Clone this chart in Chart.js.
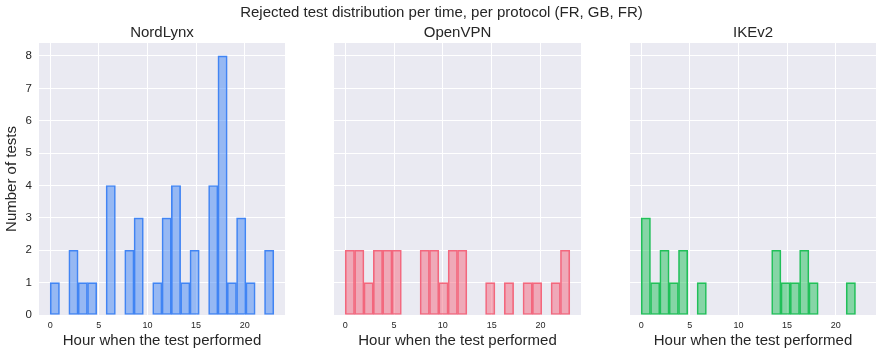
<!DOCTYPE html>
<html><head><meta charset="utf-8">
<script src="https://cdn.jsdelivr.net/npm/chart.js@4/dist/chart.umd.min.js"></script>
<style>
html,body{margin:0;padding:0;background:#fff;}
#wrap{position:relative;width:883px;height:356px;overflow:hidden;}
canvas{position:absolute;top:0;}
</style></head><body>
<div id="wrap">
<canvas id="c1" width="295" height="356" style="left:0px"></canvas>
<canvas id="c3" width="293" height="356" style="left:590px"></canvas>
<canvas id="c2" width="883" height="356" style="left:0px"></canvas>
</div>
<script>
// ---- data ----
const suptitle = "Rejected test distribution per time, per protocol (FR, GB, FR)";
const protocols = ["NordLynx", "OpenVPN", "IKEv2"];
// histogram bin centres (hour of day, 24 bins spanning 0..23)
const binCenters = [0.479, 1.438, 2.396, 3.354, 4.313, 5.271, 6.229, 7.188, 8.146, 9.104, 10.063, 11.021,
                    11.979, 12.938, 13.896, 14.854, 15.813, 16.771, 17.729, 18.688, 19.646, 20.604, 21.563, 22.521];
const nordlynxCounts = [1,0,2,1,1,0,4,0,2,3,0,1,3,4,1,2,0,4,8,1,3,1,0,2];
const openvpnCounts  = [2,2,1,2,2,2,0,0,2,2,1,2,2,0,0,1,0,1,0,1,1,0,1,2];
const ikev2Counts    = [3,1,2,1,2,0,1,0,0,0,0,0,0,0,2,1,1,2,1,0,0,0,1,0];
const yTicks = [0,1,2,3,4,5,6,7,8];
const xTicks = [0,5,10,15,20];
const xLabel = "Hour when the test performed";
const yLabel = "Number of tests";

// ---- styling ----
const fills   = ["rgba(66,133,244,0.5)", "rgba(243,104,126,0.5)", "rgba(34,192,90,0.5)"];
const edges   = ["rgb(66,133,244)", "rgb(243,104,126)", "rgb(34,192,90)"];
const allCounts = [nordlynxCounts, openvpnCounts, ikev2Counts];
const FONT = "'Liberation Sans', Arial, sans-serif";
const TXT = "#262626";

const bgPlugin = {
  id: 'bg',
  beforeDraw(chart) {
    const {ctx, chartArea: a} = chart;
    ctx.save();
    ctx.fillStyle = '#EAEAF2';
    ctx.fillRect(a.left, a.top, a.right - a.left, a.bottom - a.top);
    ctx.restore();
  }
};

// left axis width / right spacer width so that plot areas sit where the reference has them
const geom = [
  {id: 'c1', yw: 39, rw: 10},
  {id: 'c2', yw: 334, rw: 302},
  {id: 'c3', yw: 40, rw: 7}
];

protocols.forEach((name, i) => {
  const data = binCenters.map((x, k) => ({x: x, y: allCounts[i][k] === 0 ? null : allCounts[i][k]}));
  const g = geom[i];
  new Chart(document.getElementById(g.id), {
    type: 'bar',
    data: {
      datasets: [{
        label: name,
        data: data,
        backgroundColor: fills[i],
        borderColor: edges[i],
        borderWidth: 1,
        borderSkipped: false,
        barPercentage: 1,
        categoryPercentage: 1
      }]
    },
    options: {
      responsive: false,
      animation: false,
      layout: {padding: 0},
      plugins: {
        legend: {display: false},
        tooltip: {enabled: false},
        title: {
          display: true,
          text: i === 1 ? suptitle : ' ',
          color: TXT,
          font: {family: FONT, size: 15, weight: 'normal', lineHeight: 1.2},
          padding: {top: 4, bottom: 0},
          fullSize: true
        },
        subtitle: {
          display: true,
          text: name,
          color: TXT,
          font: {family: FONT, size: 15, weight: 'normal', lineHeight: 1.2},
          padding: {top: 2, bottom: 1},
          fullSize: false
        }
      },
      scales: {
        x: {
          type: 'linear',
          min: -1.15,
          max: 24.15,
          offset: false,
          border: {display: false},
          grid: {color: '#ffffff', lineWidth: 1, drawTicks: false, offset: false},
          afterBuildTicks: (s) => { s.ticks = xTicks.map(v => ({value: v})); },
          afterFit: (s) => { s.height = 41; },
          ticks: {
            color: TXT, font: {family: FONT, size: 9}, padding: 5,
            maxRotation: 0, autoSkip: false, includeBounds: false
          },
          title: {
            display: true, text: xLabel, color: TXT,
            font: {family: FONT, size: 15, lineHeight: 1.2},
            padding: {top: 0, bottom: 6}
          }
        },
        y: {
          type: 'linear',
          position: 'left',
          min: 0,
          max: 8.4,
          border: {display: false},
          grid: {color: '#ffffff', lineWidth: 1, drawTicks: false},
          afterBuildTicks: (s) => { s.ticks = yTicks.map(v => ({value: v})); },
          afterFit: (s) => { s.width = g.yw; },
          ticks: {
            display: i === 0,
            color: TXT, font: {family: FONT, size: 11.5}, padding: 7,
            includeBounds: false
          },
          title: {
            display: i === 0, text: yLabel, color: TXT,
            font: {family: FONT, size: 15, lineHeight: 1.2},
            padding: {top: 3, bottom: 0}
          }
        },
        spacer: {
          type: 'linear',
          position: 'right',
          display: true,
          min: 0,
          max: 1,
          border: {display: false},
          grid: {display: false},
          ticks: {display: false},
          afterFit: (s) => { s.width = g.rw; }
        }
      }
    },
    plugins: [bgPlugin]
  });
});
</script>
</body></html>
